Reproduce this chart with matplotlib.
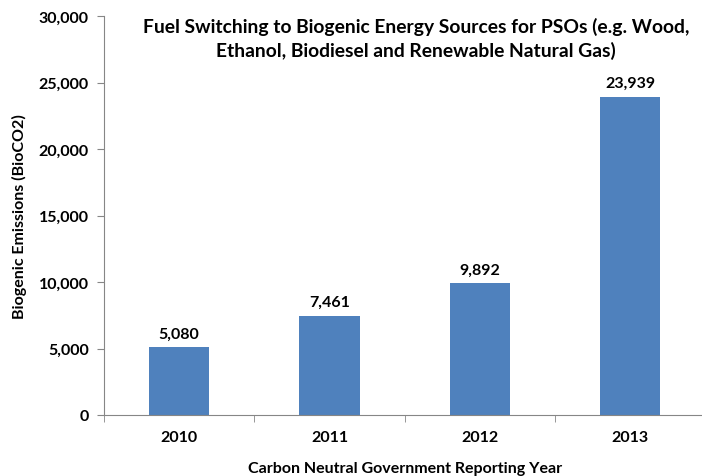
import matplotlib
matplotlib.use("Agg")
import matplotlib.pyplot as plt
import numpy as np

years = ["2010", "2011", "2012", "2013"]
emissions = [5080, 7461, 9892, 23939]
title = "Fuel Switching to Biogenic Energy Sources for PSOs (e.g. Wood,\nEthanol, Biodiesel and Renewable Natural Gas)"
ylabel = "Biogenic Emissions (BioCO2)"
xlabel = "Carbon Neutral Government Reporting Year"

plt.rcParams['font.family'] = ['Lato', 'DejaVu Sans']

fig = plt.figure(figsize=(7.02, 4.77), dpi=100)
ax = fig.add_axes([104/702, 1-416/477, 1-104/702+0.005, (416-17)/477])

x = np.arange(len(years))
ax.bar(x, emissions, width=0.4, color="#4F81BD")
for xi, v in zip(x, emissions):
    ax.text(xi, v + 500, f"{v:,}", ha="center", va="bottom", fontsize=11.5, fontweight="bold")

ax.set_xlim(-0.5, 3.5)
ax.set_ylim(0, 30000)
ax.set_yticks(range(0, 30001, 5000))
ax.set_yticklabels([f"{t:,}" for t in range(0, 30001, 5000)], fontsize=11.5, fontweight="bold")
ax.set_xticks(x)
ax.set_xticklabels(years, fontsize=11.5, fontweight="bold")
ax.set_xticks(np.arange(-0.5, 3.6, 1), minor=True)
ax.tick_params(axis="x", which="major", length=0, pad=11)
ax.tick_params(axis="x", which="minor", length=5, color="#868686")
ax.tick_params(axis="y", length=5, color="#868686", pad=6)

for s in ["top", "right"]:
    ax.spines[s].set_visible(False)
for s in ["left", "bottom"]:
    ax.spines[s].set_color("#868686")

ax.set_ylabel(ylabel, fontsize=11.5, fontweight="bold", labelpad=8)
ax.set_xlabel(xlabel, fontsize=11.5, fontweight="bold", labelpad=12)

fig.text(0.593, 0.963, title, ha="center", va="top", fontsize=13.9, fontweight="bold", linespacing=1.4)

fig.savefig("out.png", dpi=100)
